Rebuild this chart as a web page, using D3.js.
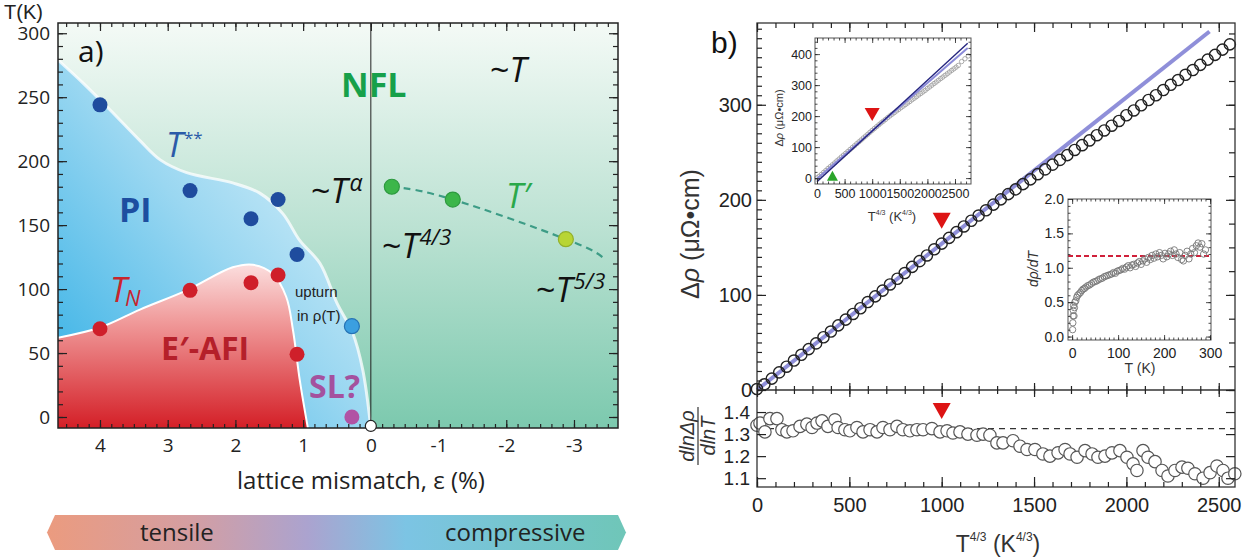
<!DOCTYPE html>
<html>
<head>
<meta charset="utf-8">
<script src="https://cdn.jsdelivr.net/npm/d3@7"></script>
<style>
body { margin: 0; background: #fff; }
</style>
</head>
<body>
<svg id="fig" width="1250" height="560"></svg>
<script>
// ---------- panel a data ----------
// boundary of the PI region (T**), [strain %, T K]
const tssEdge = [[4.62,279],[4.25,261],[3.85,240],[3.41,216],[3.11,201],[2.72,191],[2.04,183],[1.64,175],[1.30,159],[1.05,138],[0.75,120],[0.50,89],[0.27,66],[0.12,37],[0,-8.6]];
// boundary of the E'-AFI region (T_N)
const tnEdge = [[4.62,62],[4.0,70],[3.41,84],[2.72,99],[2.04,117],[1.74,119],[1.45,112],[1.25,94],[1.15,68],[1.05,29],[0.93,-8.6]];
const tssPts = [[4.0,244],[2.67,177],[1.77,155],[1.37,170],[1.09,127]];
const tnPts = [[4.0,69],[2.67,99],[1.77,105],[1.37,111],[1.09,49]];
const tPrimePts = [[-0.31,180],[-1.21,170]];
const tPrimeLast = [[-2.88,139]];
const tPrimeLine = [[-0.31,180],[-1.21,170],[-2.88,139],[-3.42,125]];
const upturnPts = [[0.28,71]];
const slPts = [[0.28,0]];
const qcpPts = [[0,-7]];
const tickYa = [0,50,100,150,200,250,300];
const tickXa = [4,3,2,1,0,-1,-2,-3];

// ---------- panel b data ----------
const rhoX = [0,40,80,120,160,200,240,280,320,360,400,440,480,520,560,600,640,680,720,760,800,840,880,920,960,1000,1040,1080,1120,1160,1200,1240,1280,1320,1360,1400,1440,1480,1520,1560,1600,1640,1680,1720,1760,1800,1840,1880,1920,1960,2000,2040,2080,2120,2160,2200,2240,2280,2320,2360,2400,2440,2480,2520,2560];
const rhoY = [1,6,12,18.5,24.5,31,37,43,49,55.5,61.5,68,74,80,86,92.5,98.5,104.5,111,117,123,129.5,135.5,141.5,148,154,160,166,172,178,183.5,189,195,200.5,206,211,216.5,221.5,227,232,237,242,247,252.5,257.5,262.5,268,273,278,283,289,294,299.5,305,310,315.5,321,326,331.5,336.5,342,347.5,352.5,358,363.5];
const fitLine = [[0,0],[2450,377]];
const slopePts = [[0,1.34],[16,1.35],[43,1.31],[70,1.37],[108,1.37],[135,1.32],[162,1.31],[195,1.315],[233,1.335],[270,1.345],[298,1.33],[325,1.35],[352,1.36],[384,1.335],[422,1.365],[439,1.33],[476,1.32],[503,1.315],[541,1.33],[574,1.31],[612,1.32],[650,1.31],[682,1.33],[720,1.32],[758,1.335],[790,1.32],[828,1.315],[866,1.32],[899,1.32],[947,1.325],[991,1.31],[1029,1.315],[1061,1.305],[1099,1.31],[1142,1.30],[1191,1.295],[1224,1.30],[1261,1.295],[1299,1.26],[1332,1.26],[1386,1.27],[1424,1.245],[1462,1.23],[1505,1.23],[1548,1.21],[1586,1.20],[1630,1.215],[1668,1.23],[1695,1.21],[1733,1.195],[1776,1.225],[1814,1.21],[1846,1.195],[1884,1.20],[1922,1.215],[1965,1.225],[2003,1.195],[2036,1.165],[2057,1.135],[2090,1.225],[2117,1.195],[2155,1.175],[2193,1.135],[2225,1.11],[2263,1.135],[2301,1.15],[2333,1.145],[2371,1.12],[2415,1.10],[2453,1.125],[2490,1.155],[2523,1.135],[2550,1.10],[2587,1.12]];
const slopeRef = 1.325;
const markT43 = 1000;
// inset 1
const insetTail = [[2620,376],[2680,385],[2740,394]];
const insetNavy = [[0,-12],[2730,435]];
const insetBlue = [[0,-2],[2730,420]];
const insetGreen = [280, 8];
const insetRed = [1000, 205];
// inset 2 : d rho / dT vs T
const dRho = [[1,0.1],[1.5,0.2],[2,0.3],[2.5,0.38],[3,0.45],[4,0.3],[5,0.42],[6,0.5],[8,0.52],[10,0.57],[12,0.6],[15,0.62],[18,0.64],[21,0.67],[24,0.69],[27,0.7],[30,0.72],[34,0.74],[38,0.75],[42,0.77],[46,0.79],[50,0.8],[54,0.81],[58,0.83],[62,0.84],[66,0.85],[70,0.87],[74,0.88],[78,0.89],[82,0.9],[86,0.91],[90,0.93],[94,0.92],[98,0.95],[102,0.96],[106,0.97],[110,0.99],[114,0.98],[118,1.01],[122,1.03],[126,1.0],[130,1.04],[134,1.05],[138,1.02],[142,1.07],[146,1.09],[150,1.05],[154,1.1],[158,1.13],[162,1.08],[166,1.15],[170,1.12],[174,1.18],[178,1.14],[182,1.2],[186,1.16],[190,1.22],[194,1.18],[198,1.13],[202,1.21],[206,1.16],[210,1.2],[214,1.24],[218,1.18],[222,1.26],[226,1.2],[230,1.15],[234,1.22],[238,1.12],[242,1.1],[246,1.18],[250,1.24],[254,1.13],[258,1.2],[262,1.28],[266,1.22],[270,1.32],[274,1.36],[278,1.3],[282,1.35],[286,1.2],[290,1.26]];
const dRhoRef = 1.17;

const svg = d3.select("#fig");
const defs = svg.append("defs");
const FA = "'Open Sans','Noto Sans',sans-serif";
const FB = "'Liberation Sans',Arial,sans-serif";

function grad(id, x1, y1, x2, y2, stops) {
    let g = defs.append("linearGradient").attr("id", id)
        .attr("x1", x1).attr("y1", y1).attr("x2", x2).attr("y2", y2);
    stops.forEach(function (s) {
        g.append("stop").attr("offset", s[0]).attr("stop-color", s[1]);
    });
}
grad("gGreen", 0, 0, 0, 1, [[0, "#f4faf6"], [0.5, "#bce2d3"], [1, "#7cc9ae"]]);
grad("gBlue", 0, 1, 1, 0, [[0, "#2eaee5"], [0.5, "#9ad7f1"], [1, "#f2fafd"]]);
grad("gRed", 0, 0, 0, 1, [[0, "#fbdede"], [0.35, "#f09a9a"], [1, "#d41f27"]]);
grad("gArrow", 0, 0, 1, 0, [[0, "#eb9b7f"], [0.25, "#d49ea2"], [0.45, "#aba3cf"], [0.62, "#7cc4e4"], [1, "#6fc6b8"]]);

// generic tick helper
function axis(g, fn, scale, tx, ty, values, size, fmt, pad, fs, font) {
    let ax = fn(scale).tickValues(values).tickSize(size).tickPadding(pad || 3)
        .tickFormat(fmt || "");
    let sel = g.append("g").attr("transform", "translate(" + tx + "," + ty + ")").call(ax);
    sel.select(".domain").remove();
    sel.selectAll("line").attr("stroke", "#222").attr("stroke-width", 1.2);
    sel.selectAll("text").attr("font-size", fs || 12).attr("font-family", font || FB).attr("fill", "#222");
    return sel;
}

// ================= panel a =================
const xA = d3.scaleLinear().domain([4.62, -3.65]).range([58, 618]);
const yA = d3.scaleLinear().domain([-8.6, 308]).range([428, 23]);
const L = 58, R = 618, T = 23, B = 428;

let gA = svg.append("g");
defs.append("clipPath").attr("id", "clipA").append("rect")
    .attr("x", L).attr("y", T).attr("width", R - L).attr("height", B - T);
let plotA = gA.append("g").attr("clip-path", "url(#clipA)");

plotA.append("rect").attr("x", L).attr("y", T).attr("width", R - L).attr("height", B - T)
    .attr("fill", "url(#gGreen)");

let edge = d3.line().x(d => xA(d[0])).y(d => yA(d[1])).curve(d3.curveCatmullRom);
let corner = "L" + xA(4.62) + "," + yA(-8.6) + "Z";

plotA.append("path").attr("d", edge(tssEdge) + corner).attr("fill", "url(#gBlue)");
plotA.append("path").attr("d", edge(tssEdge)).attr("fill", "none")
    .attr("stroke", "#fff").attr("stroke-width", 3).attr("stroke-opacity", 0.75);
plotA.append("path").attr("d", edge(tnEdge) + corner).attr("fill", "url(#gRed)");
plotA.append("path").attr("d", edge(tnEdge)).attr("fill", "none")
    .attr("stroke", "#fff").attr("stroke-width", 2);

// eps = 0 line
plotA.append("line").attr("x1", xA(0)).attr("x2", xA(0)).attr("y1", T).attr("y2", B)
    .attr("stroke", "#222").attr("stroke-width", 1);

// T' dashed line
plotA.append("path").attr("d", d3.line().x(d => xA(d[0])).y(d => yA(d[1])).curve(d3.curveNatural)(tPrimeLine))
    .attr("fill", "none").attr("stroke", "#3d9c86").attr("stroke-width", 2.2).attr("stroke-dasharray", "7,5");

// frame and ticks
gA.append("rect").attr("x", L).attr("y", T).attr("width", R - L).attr("height", B - T)
    .attr("fill", "none").attr("stroke", "#222").attr("stroke-width", 1.5);
let minY = d3.range(0, 301, 10);
let minX = d3.range(-21, 28).map(i => i / 6).filter(v => v <= 4.62 && v >= -3.65);
axis(gA, d3.axisLeft, yA, L, 0, tickYa, -9, d => String(d), 8, 19, FA);
axis(gA, d3.axisLeft, yA, L, 0, minY, -5);
axis(gA, d3.axisRight, yA, R, 0, tickYa, -9);
axis(gA, d3.axisRight, yA, R, 0, minY, -5);
axis(gA, d3.axisBottom, xA, 0, B, tickXa, -8, d => String(d), 10.5, 19, FA);
axis(gA, d3.axisBottom, xA, 0, B, minX, -4);
axis(gA, d3.axisTop, xA, 0, T, tickXa, -8);
axis(gA, d3.axisTop, xA, 0, T, minX, -4);

// markers
function dots(data, r, fill, stroke) {
    gA.append("g").selectAll("circle").data(data).enter().append("circle")
        .attr("cx", d => xA(d[0])).attr("cy", d => yA(d[1])).attr("r", r)
        .attr("fill", fill).attr("stroke", stroke || "none").attr("stroke-width", 1.2);
}
dots(tssPts, 7.5, "#1f4c9e");
dots(tnPts, 7.5, "#cf1f2a");
dots(tPrimePts, 7.5, "#3cb64a", "#2e9a40");
dots(tPrimeLast, 7.5, "#b8d534", "#93b02a");
dots(upturnPts, 7.5, "#3b9fe0", "#2673b5");
dots(slPts, 7.5, "#b153a4");
dots(qcpPts, 5.5, "#fff", "#222");

// labels
function txt(x, y, size, color, parts, opts) {
    let t = gA.append("text").attr("x", x).attr("y", y).attr("font-size", size)
        .attr("fill", color).attr("font-family", (opts && opts.font) || FA);
    if (opts && opts.weight) t.attr("font-weight", opts.weight);
    parts.forEach(function (p) {
        let s = t.append("tspan").text(p.t);
        if (p.i) s.attr("font-style", "italic");
        if (p.fs) s.attr("font-size", p.fs);
        if (p.dy) s.attr("dy", p.dy);
        if (p.dx) s.attr("dx", p.dx);
    });
    return t;
}
txt(4, 19, 20, "#222", [{t: "T(K)"}], {font: FB});
txt(78, 62, 30, "#111", [{t: "a)"}]);
txt(237, 489, 24, "#222", [{t: "lattice mismatch, ε (%)"}]);
txt(166, 157, 34, "#2b5aa8", [{t: "T", i: 1}, {t: "**", fs: 17, dy: -13, dx: 1}]);
txt(119, 222, 34, "#1d4ea0", [{t: "PI"}], {weight: "bold"});
txt(341, 97, 34, "#17a04a", [{t: "NFL"}], {weight: "bold"});
txt(490, 82, 34, "#111", [{t: "~"}, {t: "T", i: 1}]);
txt(311, 203, 34, "#111", [{t: "~"}, {t: "T", i: 1}, {t: "α", i: 1, fs: 23, dy: -12, dx: 2}]);
txt(506, 208, 34, "#2aa84a", [{t: "T′", i: 1}]);
txt(382, 258, 34, "#111", [{t: "~"}, {t: "T", i: 1}, {t: "4/3", i: 1, fs: 22, dy: -13, dx: 1}]);
txt(536, 302, 34, "#111", [{t: "~"}, {t: "T", i: 1}, {t: "5/3", i: 1, fs: 22, dy: -13, dx: 1}]);
txt(110, 302, 34, "#c8252d", [{t: "T", i: 1}, {t: "N", i: 1, fs: 22, dy: 4, dx: -2}]);
txt(295, 297, 15, "#222", [{t: "upturn"}], {font: "'Liberation Sans Narrow','Liberation Sans',sans-serif"});
txt(297, 321, 15, "#222", [{t: "in ρ(T)"}], {font: "'Liberation Sans Narrow','Liberation Sans',sans-serif"});
txt(161, 360, 32, "#b5202a", [{t: "E′-AFI"}], {weight: "bold"});
txt(309, 398, 32, "#a4519e", [{t: "SL?"}], {weight: "bold"});

// tensile / compressive arrow
gA.append("path")
    .attr("d", "M55,515L618,515L626,532.5L618,550L55,550L47,532.5Z")
    .attr("fill", "url(#gArrow)");
txt(140, 541, 24, "#222", [{t: "tensile"}]);
txt(445, 541, 24, "#222", [{t: "compressive"}]);

// ================= panel b =================
const xB = d3.scaleLinear().domain([0, 2588]).range([757, 1235]);
const yUp = d3.scaleLinear().domain([0, 386]).range([390, 23]);
const yLo = d3.scaleLinear().domain([1.06, 1.5]).range([487, 390]);
let gB = svg.append("g");
const BL = 757, BR = 1235;

gB.append("rect").attr("x", BL).attr("y", 23).attr("width", BR - BL).attr("height", 464).attr("fill", "#fff");

// fit line and data
gB.append("path").attr("d", d3.line().x(d => xB(d[0])).y(d => yUp(d[1]))(fitLine))
    .attr("stroke", "#7b7bd2").attr("stroke-width", 4).attr("stroke-opacity", 0.85).attr("fill", "none");
gB.append("g").selectAll("circle").data(rhoX).enter().append("circle")
    .attr("cx", d => xB(d)).attr("cy", (d, i) => yUp(rhoY[i])).attr("r", 5.6)
    .attr("fill", "none").attr("stroke", "#222").attr("stroke-width", 1.4);

// lower panel
gB.append("line").attr("x1", BL).attr("x2", BR).attr("y1", yLo(slopeRef)).attr("y2", yLo(slopeRef))
    .attr("stroke", "#333").attr("stroke-width", 1.3).attr("stroke-dasharray", "6,5");
gB.append("g").selectAll("circle").data(slopePts).enter().append("circle")
    .attr("cx", d => xB(d[0])).attr("cy", d => yLo(d[1])).attr("r", 6.2)
    .attr("fill", "#fff").attr("stroke", "#555").attr("stroke-width", 1.2);

// red triangles
function tri(g, x, y, w, h, up, color) {
    let p = up ? [[x - w / 2, y + h / 2], [x + w / 2, y + h / 2], [x, y - h / 2]]
               : [[x - w / 2, y - h / 2], [x + w / 2, y - h / 2], [x, y + h / 2]];
    g.append("path").attr("d", "M" + p.join("L") + "Z").attr("fill", color);
}
tri(gB, xB(markT43), yUp(178), 18, 16, false, "#dd1414");
tri(gB, xB(markT43), yLo(1.405), 18, 16, false, "#dd1414");

// frames and ticks
gB.append("rect").attr("x", BL).attr("y", 23).attr("width", BR - BL).attr("height", 464)
    .attr("fill", "none").attr("stroke", "#333").attr("stroke-width", 1.3);
gB.append("line").attr("x1", BL).attr("x2", BR).attr("y1", 390).attr("y2", 390)
    .attr("stroke", "#333").attr("stroke-width", 1.3);
let xMaj = [0, 500, 1000, 1500, 2000, 2500];
let xMin = d3.range(0, 2588, 100);
axis(gB, d3.axisLeft, yUp, BL, 0, [0, 100, 200, 300], -9, d => String(d), 5, 20);
axis(gB, d3.axisLeft, yUp, BL, 0, d3.range(0, 381, 10), -5);
axis(gB, d3.axisRight, yUp, BR, 0, [0, 100, 200, 300], -9);
axis(gB, d3.axisRight, yUp, BR, 0, d3.range(0, 381, 25), -6);
axis(gB, d3.axisTop, xB, 0, 23, xMaj, -9);
axis(gB, d3.axisTop, xB, 0, 23, xMin, -5);
axis(gB, d3.axisTop, xB, 0, 390, xMaj, 7);
axis(gB, d3.axisBottom, xB, 0, 390, xMaj, 7);
axis(gB, d3.axisTop, xB, 0, 390, xMin, 4);
axis(gB, d3.axisBottom, xB, 0, 390, xMin, 4);
axis(gB, d3.axisLeft, yLo, BL, 0, [1.1, 1.2, 1.3, 1.4], -9, d3.format(".1f"), 7, 19);
axis(gB, d3.axisRight, yLo, BR, 0, [1.1, 1.2, 1.3, 1.4], -9);
axis(gB, d3.axisBottom, xB, 0, 487, xMaj, -10, d => String(d), 11, 20);
axis(gB, d3.axisBottom, xB, 0, 487, xMin, -5);

function btxt(g, x, y, size, parts, rot, anchor) {
    let t = g.append("text").attr("font-size", size).attr("fill", "#333").attr("font-family", FB)
        .attr("text-anchor", anchor || "start");
    if (rot) t.attr("transform", "translate(" + x + "," + y + ") rotate(-90)");
    else t.attr("x", x).attr("y", y);
    parts.forEach(function (p) {
        let s = t.append("tspan").text(p.t);
        if (p.i) s.attr("font-style", "italic");
        if (p.fs) s.attr("font-size", p.fs);
        if (p.dy) s.attr("dy", p.dy);
    });
    return t;
}
btxt(gB, 711, 53, 30, [{t: "b)"}]).attr("fill", "#111");
btxt(gB, 699, 234, 25, [{t: "Δ"}, {t: "ρ", i: 1}, {t: " (μΩ•cm)"}], true, "middle");
btxt(gB, 998, 552, 23, [{t: "T"}, {t: "4/3", fs: 12, dy: -11}, {t: " (K", dy: 11}, {t: "4/3", fs: 12, dy: -11}, {t: ")", dy: 11}], false, "middle");
// fraction d ln Δρ / d ln T
let fr = gB.append("g").attr("transform", "translate(698,436) rotate(-90)");
fr.append("text").attr("x", 0).attr("y", -4).attr("text-anchor", "middle").attr("font-size", 20)
    .attr("font-family", FB).attr("font-style", "italic").attr("fill", "#333").text("dlnΔρ");
fr.append("line").attr("x1", -29).attr("x2", 29).attr("y1", 0).attr("y2", 0).attr("stroke", "#333").attr("stroke-width", 1.2);
fr.append("text").attr("x", 0).attr("y", 17).attr("text-anchor", "middle").attr("font-size", 20)
    .attr("font-family", FB).attr("font-style", "italic").attr("fill", "#333").text("dlnT");

// ---------- inset 1 ----------
const x1 = d3.scaleLinear().domain([-36, 2790]).range([815, 971]);
const y1 = d3.scaleLinear().domain([-19, 452]).range([184, 38]);
let gI = svg.append("g");
gI.append("rect").attr("x", 815).attr("y", 38).attr("width", 156).attr("height", 146).attr("fill", "#fff");
gI.append("g").selectAll("circle").data(rhoX.map((d, i) => [d, rhoY[i]]).concat(insetTail)).enter().append("circle")
    .attr("cx", d => x1(d[0])).attr("cy", d => y1(d[1])).attr("r", 2.2)
    .attr("fill", "none").attr("stroke", "#999").attr("stroke-width", 0.8);
let l1 = d3.line().x(d => x1(d[0])).y(d => y1(d[1]));
gI.append("path").attr("d", l1(insetBlue)).attr("stroke", "#8a8ad8").attr("stroke-width", 2).attr("fill", "none");
gI.append("path").attr("d", l1(insetNavy)).attr("stroke", "#24247e").attr("stroke-width", 1.4).attr("fill", "none");
tri(gI, x1(insetRed[0]), y1(insetRed[1]), 15, 13, false, "#dd1414");
tri(gI, x1(insetGreen[0]), y1(insetGreen[1]), 11, 10, true, "#2aa52a");
gI.append("rect").attr("x", 815).attr("y", 38).attr("width", 156).attr("height", 146)
    .attr("fill", "none").attr("stroke", "#555").attr("stroke-width", 1);
let i1Maj = [0, 500, 1000, 1500, 2000, 2500];
axis(gI, d3.axisLeft, y1, 815, 0, [0, 100, 200, 300, 400], -5, d => String(d), 3, 12.5).selectAll("line").attr("stroke-width", 0.8);
axis(gI, d3.axisLeft, y1, 815, 0, d3.range(0, 441, 20), -2.5).selectAll("line").attr("stroke-width", 0.8);
axis(gI, d3.axisRight, y1, 971, 0, [0, 100, 200, 300, 400], -5).selectAll("line").attr("stroke-width", 0.8);
axis(gI, d3.axisRight, y1, 971, 0, d3.range(0, 441, 20), -2.5).selectAll("line").attr("stroke-width", 0.8);
axis(gI, d3.axisBottom, x1, 0, 184, i1Maj, -5, d => String(d), 5, 12.5).selectAll("line").attr("stroke-width", 0.8);
axis(gI, d3.axisBottom, x1, 0, 184, d3.range(0, 2791, 100), -2.5).selectAll("line").attr("stroke-width", 0.8);
axis(gI, d3.axisTop, x1, 0, 38, i1Maj, -5).selectAll("line").attr("stroke-width", 0.8);
axis(gI, d3.axisTop, x1, 0, 38, d3.range(0, 2791, 100), -2.5).selectAll("line").attr("stroke-width", 0.8);
btxt(gI, 783, 118, 11, [{t: "Δ"}, {t: "ρ", i: 1}, {t: " (μΩ•cm)"}], true, "middle");
btxt(gI, 892, 221, 13, [{t: "T"}, {t: "4/3", fs: 7, dy: -6}, {t: " (K", dy: 6}, {t: "4/3", fs: 7, dy: -6}, {t: ")", dy: 6}], false, "middle");

// ---------- inset 2 ----------
const x2 = d3.scaleLinear().domain([-9, 302]).range([1068, 1211]);
const y2 = d3.scaleLinear().domain([-0.05, 2.0]).range([340, 199]);
let gJ = svg.append("g");
gJ.append("rect").attr("x", 1068).attr("y", 199).attr("width", 143).attr("height", 141).attr("fill", "#fff");
gJ.append("line").attr("x1", 1068).attr("x2", 1211).attr("y1", y2(dRhoRef)).attr("y2", y2(dRhoRef))
    .attr("stroke", "#d0203a").attr("stroke-width", 2).attr("stroke-dasharray", "5,3");
gJ.append("g").selectAll("circle").data(dRho).enter().append("circle")
    .attr("cx", d => x2(d[0])).attr("cy", d => y2(d[1])).attr("r", 3.2)
    .attr("fill", "none").attr("stroke", "#777").attr("stroke-width", 0.9);
gJ.append("rect").attr("x", 1068).attr("y", 199).attr("width", 143).attr("height", 141)
    .attr("fill", "none").attr("stroke", "#555").attr("stroke-width", 1);
let i2Y = [0, 0.5, 1, 1.5, 2];
axis(gJ, d3.axisLeft, y2, 1068, 0, i2Y, -5, d3.format(".1f"), 4, 14).selectAll("line").attr("stroke-width", 0.8);
axis(gJ, d3.axisLeft, y2, 1068, 0, d3.range(0, 20).map(i => i / 10), -2.5).selectAll("line").attr("stroke-width", 0.8);
axis(gJ, d3.axisRight, y2, 1211, 0, i2Y, -5).selectAll("line").attr("stroke-width", 0.8);
axis(gJ, d3.axisRight, y2, 1211, 0, d3.range(0, 20).map(i => i / 10), -2.5).selectAll("line").attr("stroke-width", 0.8);
axis(gJ, d3.axisBottom, x2, 0, 340, [0, 100, 200, 300], -5, d => String(d), 8, 14).selectAll("line").attr("stroke-width", 0.8);
axis(gJ, d3.axisBottom, x2, 0, 340, d3.range(0, 301, 10), -2.5).selectAll("line").attr("stroke-width", 0.8);
axis(gJ, d3.axisTop, x2, 0, 199, [0, 100, 200, 300], -5).selectAll("line").attr("stroke-width", 0.8);
axis(gJ, d3.axisTop, x2, 0, 199, d3.range(0, 301, 10), -2.5).selectAll("line").attr("stroke-width", 0.8);
btxt(gJ, 1038, 269, 14, [{t: "dρ/dT", i: 1}], true, "middle");
btxt(gJ, 1140, 373, 14, [{t: "T (K)"}], false, "middle");
</script>
</body>
</html>
